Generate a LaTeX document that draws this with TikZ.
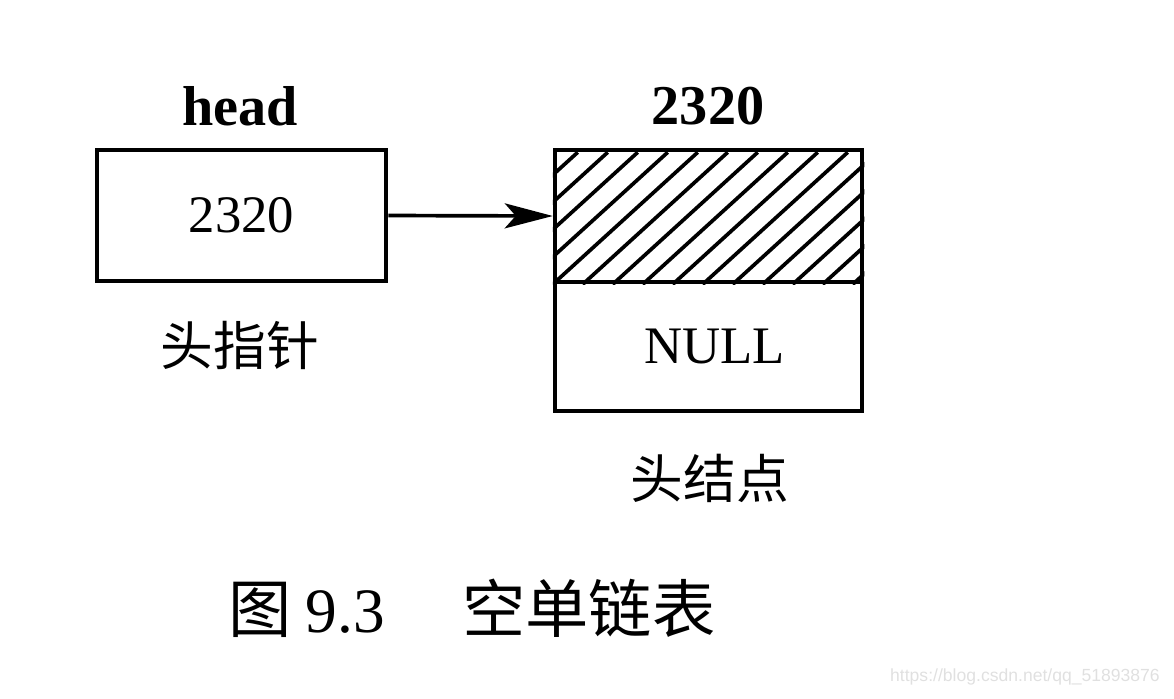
\documentclass[tikz,border=0pt]{standalone}
\usepackage{fontspec}
\setmainfont{Liberation Serif}
\setsansfont{Liberation Sans}
\newfontfamily\cjk{Noto Sans CJK SC}
\usetikzlibrary{arrows.meta, positioning, calc}

\tikzset{
    cell/.style={draw, line width=2.6pt, inner sep=0pt, minimum width=#1},
    cell/.default=6.14cm,
    lbl/.style={font=\fontsize{30}{30}\selectfont},
}

\begin{document}
\begin{tikzpicture}[x=0.02cm, y=-0.02cm]
    \useasboundingbox (0,0) rectangle (1174,698);

    % Head pointer box
    \node[cell=5.78cm, minimum height=2.62cm, lbl] (head) at (241.5,215.5) {2320};
    \node[lbl, font=\fontsize{32}{32}\selectfont\bfseries] (headname) at (240,106) {head};
    \node[lbl, font=\fontsize{30}{30}\selectfont\cjk] (headcap) at (240,345) {头指针};

    % Head node: data part and next part
    \node[cell, minimum height=2.64cm] (data) at (708.5,216) {};
    \node[cell, minimum height=2.58cm, lbl] (next) at (708.5,346.5) {\hspace{0.25cm}NULL};
    \node[lbl, font=\fontsize{32}{32}\selectfont\bfseries] (addr) at (708,106) {2320};
    \node[lbl, font=\fontsize{30}{30}\selectfont\cjk] (nodecap) at (710,478) {头结点};

    % Hatching of the data part
    \begin{scope}
        \clip (data.south west) rectangle (data.north east);
        \foreach \i in {-5,...,11}
            \draw[line width=2.1pt] ($(data.south west)+(\i*30,0)$) -- ++(145,-132);
    \end{scope}
    \node[cell, minimum height=2.64cm] at (data) {};

    % Pointer
    \draw[line width=2.1pt, -{Stealth[length=0.96cm, width=0.5cm, inset=0.22cm]}] (head.east) -- (data.west);

    % Caption
    \node[font=\fontsize{36}{36}\selectfont\cjk] (caption) at (472,608) {图\ \textrm{9.3}\quad\ 空单链表};
    \node[font=\fontsize{10}{10}\selectfont\sffamily, text=black!12, anchor=east] (mark) at (1166,677) {https://blog.csdn.net/qq\_51893876};
\end{tikzpicture}
\end{document}
